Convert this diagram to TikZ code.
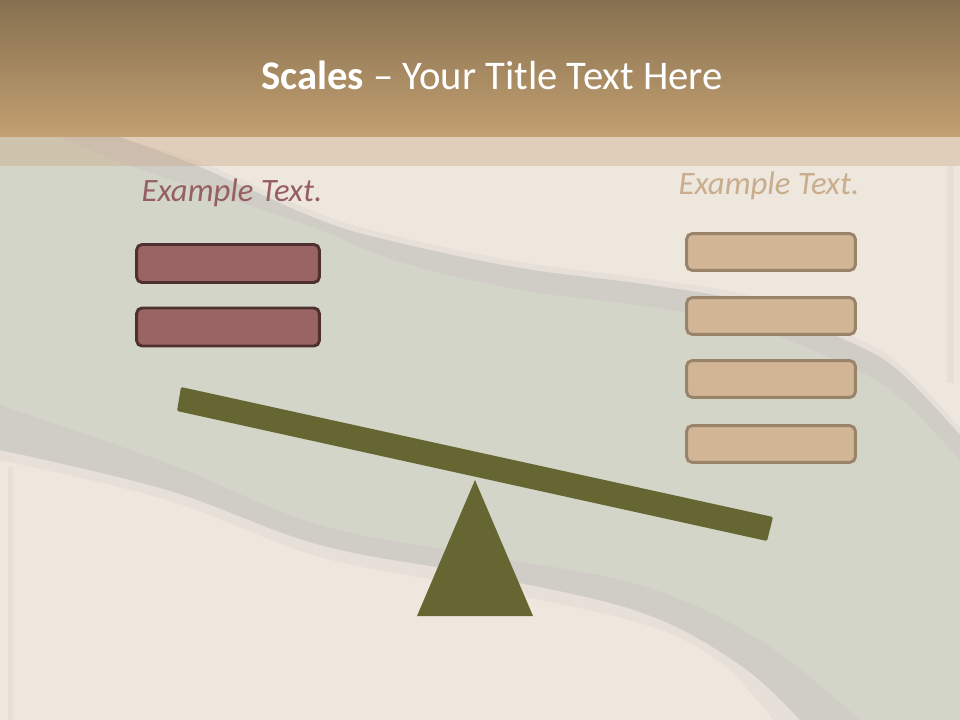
\documentclass[tikz,border=0pt]{standalone}
\usepackage{fontspec}
\setmainfont{Carlito}
\usepackage{xcolor}
\usepackage{tikz}
\usetikzlibrary{positioning}
\definecolor{paper}{RGB}{238,231,222}
\definecolor{sage}{RGB}{210,213,200}
\definecolor{rim}{RGB}{208,205,199}
\definecolor{rimlight}{RGB}{231,224,216}
\definecolor{bartop}{RGB}{133,112,79}
\definecolor{barbottom}{RGB}{196,160,114}
\definecolor{bandtan}{RGB}{200,162,122}
\definecolor{olive}{RGB}{102,102,51}
\definecolor{mauve}{RGB}{154,100,100}
\definecolor{mauvedark}{RGB}{78,48,48}
\definecolor{mauvetext}{RGB}{150,96,98}
\definecolor{tan}{RGB}{209,181,149}
\definecolor{tandark}{RGB}{154,132,105}
\definecolor{tantext}{RGB}{201,173,140}

\begin{document}
\begin{tikzpicture}[
    x=0.75pt, y=-0.75pt,
    leftbox/.style={rectangle, draw=mauvedark, fill=mauve, line width=2.2pt, rounded corners=4pt, minimum width=137pt, minimum height=28.5pt},
    rightbox/.style={rectangle, draw=tandark, fill=tan, line width=2.2pt, rounded corners=4pt, minimum width=126.5pt, minimum height=27.5pt},
    label/.style={font=\fontsize{24.5}{29}\selectfont\itshape}
]
\useasboundingbox (0,0) rectangle (960,720);
\fill[paper] (0,0) rectangle (960,720);

% wave behind the scales
\fill[rimlight] (0,137) -- plot[smooth, tension=0.6] coordinates {(110,137) (200,162) (320,214) (400,237) (520,262) (650,279) (750,296) (850,335) (900,365) (960,428)}
    -- (960,720) -- plot[smooth, tension=0.6] coordinates {(773,720) (720,662) (640,623) (480,588) (320,557) (167,500) (0,460)} -- cycle;
\fill[rim] (0,137) -- plot[smooth, tension=0.6] coordinates {(120,137) (200,167) (320,220) (400,243) (520,268) (650,285) (750,303) (850,342) (900,372) (960,435)}
    -- (960,720) -- plot[smooth, tension=0.6] coordinates {(800,720) (740,665) (640,612) (480,575) (320,545) (167,490) (0,450)} -- cycle;
\fill[sage] (0,137) -- plot[smooth, tension=0.6] coordinates {(60,137) (133,167) (233,200) (320,230) (400,262) (520,290) (650,307) (750,327) (850,367) (900,398) (960,460)}
    -- (960,720) -- plot[smooth, tension=0.6] coordinates {(860,720) (760,640) (640,585) (480,555) (320,525) (167,463) (0,405)} -- cycle;
\fill[rimlight] (8,467) rectangle (13,720);
\fill[rimlight] (947,166) rectangle (954,383);

% title bar
\shade[top color=bartop, bottom color=barbottom] (0,0) rectangle (960,137);
\fill[bandtan, opacity=0.35] (0,137) rectangle (960,166);
\node[font=\fontsize{30.5}{36}\selectfont, text=white] (title) at (492,75) {\textbf{Scales} -- Your Title Text Here};

% scales
\fill[olive, rounded corners=1pt] (181,387) -- (773,517) -- (767,541) -- (177,411) -- cycle;
\fill[olive] (475,480) -- (533,616) -- (417,616) -- cycle;

% left side
\node[label, text=mauvetext] (lefttxt) at (232,193) {Example Text.};
\node[leftbox] (lbox1) at (228,263.5) {};
\node[leftbox] (lbox2) at (228,327) {};

% right side
\node[label, text=tantext] (righttxt) at (769,186) {Example Text.};
\node[rightbox] (rbox1) at (771,252) {};
\node[rightbox] (rbox2) at (771,316) {};
\node[rightbox] (rbox3) at (771,379) {};
\node[rightbox] (rbox4) at (771,444) {};
\end{tikzpicture}
\end{document}
